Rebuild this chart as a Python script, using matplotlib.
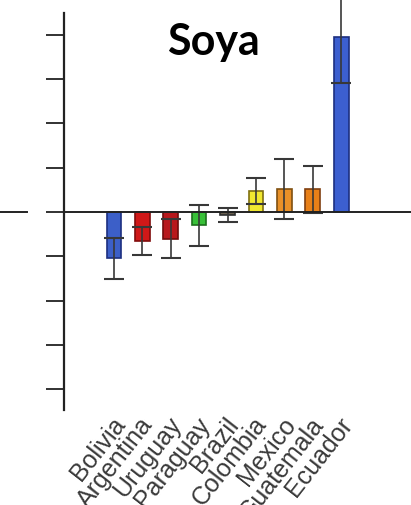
import matplotlib
matplotlib.use("Agg")
import matplotlib.pyplot as plt
from matplotlib.lines import Line2D
from matplotlib.transforms import ScaledTranslation
import numpy as np

countries = ["Bolivia", "Argentina", "Uruguay", "Paraguay", "Brazil",
             "Colombia", "Mexico", "Guatemala", "Ecuador"]
values = [-1.05, -0.65, -0.60, -0.30, -0.07, 0.47, 0.51, 0.51, 3.94]
errors = [0.47, 0.32, 0.44, 0.46, 0.15, 0.30, 0.68, 0.53, 1.04]
fill_colors = ["#3c5fc8", "#d01818", "#b8181c", "#38c038", "#6a6050",
               "#f0e830", "#e89028", "#e88018", "#3c5fd0"]
edge_colors = ["#1c2f80", "#800c0c", "#700c0c", "#1c701c", "#303030",
               "#807010", "#805010", "#804010", "#1c2f80"]
yticks = [-4, -3, -2, -1, 0, 1, 2, 3, 4]
title = "Soya"

W, H = 411, 505
fig = plt.figure(figsize=(W / 100, H / 100), dpi=100)
ax = fig.add_axes([64 / W, (H - 410) / H, (W - 64) / W, (410 - 13) / H])

x = np.arange(len(countries))
ax.bar(x, values, width=0.52, color=fill_colors, edgecolor=edge_colors,
       linewidth=1.2, zorder=2)
ax.errorbar(x, values, yerr=errors, fmt="none", ecolor="#383838",
            elinewidth=1.2, capsize=7, capthick=1.5, zorder=3, clip_on=False)

ax.axhline(0, color="#222222", linewidth=1.4, zorder=4)
ax.set_xlim(-1.757, 10.46)
ax.set_ylim(-4.47, 4.49)

for s in ["top", "right", "bottom"]:
    ax.spines[s].set_visible(False)
ax.spines["left"].set_color("#222222")
ax.spines["left"].set_linewidth(1.6)

ax.set_yticks(yticks)
ax.set_yticklabels([])
ax.tick_params(axis="y", direction="out", length=13, width=1.3, color="#222222")

ax.set_xticks(x)
ax.set_xticklabels(countries, rotation=52, ha="right", rotation_mode="anchor",
                   fontsize=18, color="#3a3a3a", family="Liberation Sans")
ax.tick_params(axis="x", length=0, pad=2)
offset = ScaledTranslation(-3 / 100, 0, fig.dpi_scale_trans)
for lab in ax.get_xticklabels():
    lab.set_transform(lab.get_transform() + offset)

# stray axis fragment at the far left
fig.add_artist(Line2D([0, 27 / W], [1 - 212 / H, 1 - 212 / H],
                      color="#222222", linewidth=1.4))

fig.text(213 / W, 1 - 55 / H, title, ha="center", va="baseline",
         fontsize=31, fontweight="bold", family="Lato", color="black")

fig.savefig("out.png", dpi=100)
